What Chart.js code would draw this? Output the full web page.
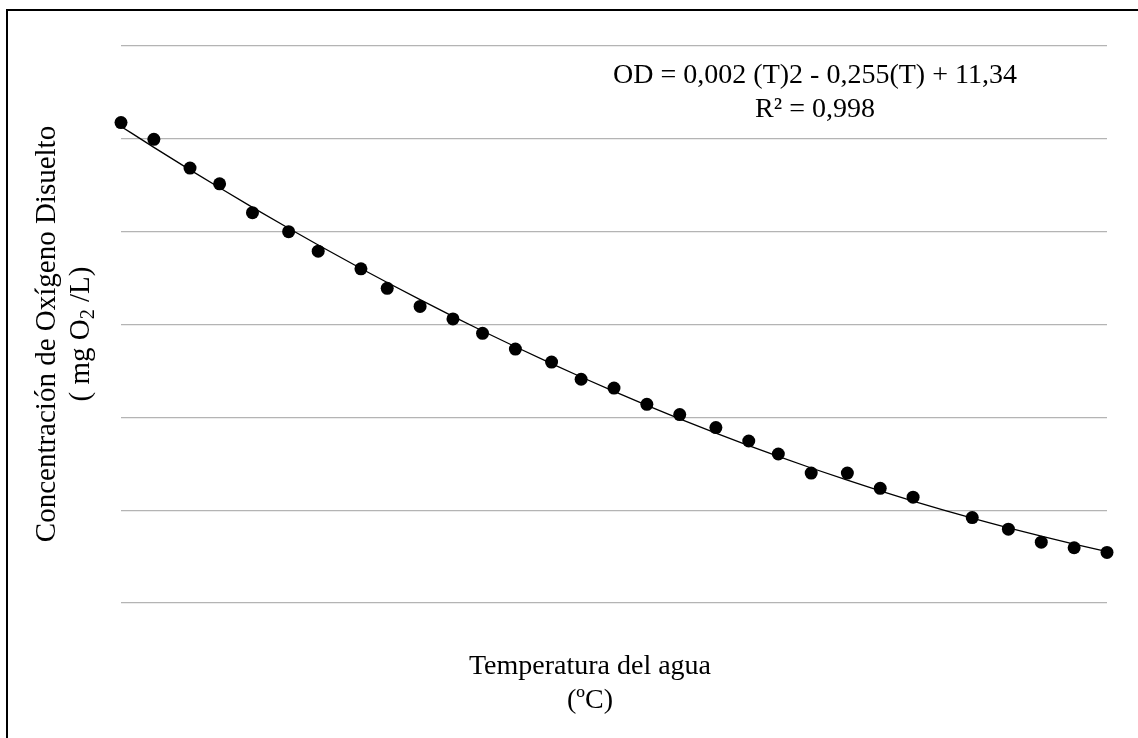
<!DOCTYPE html>
<html lang="es">
<head>
<meta charset="utf-8">
<title>Oxígeno disuelto vs temperatura</title>
<script src="https://cdn.jsdelivr.net/npm/chart.js@4.4.1/dist/chart.umd.min.js"></script>
<style>
  html, body { margin: 0; padding: 0; background: #fff; overflow: hidden; }
  body { font-family: "Liberation Serif", "Times New Roman", serif; color: #000; }
  #marco {
    position: absolute; left: 6px; top: 9px; width: 1300px; height: 900px;
    border-left: 2px solid #000; border-top: 2px solid #000;
  }
  #wrap { position: absolute; left: 0; top: 0; width: 1138px; height: 738px; }
  .texto { position: absolute; text-align: center; white-space: nowrap; line-height: 34px; }
  #ecuacion { left: 515px; top: 57px; width: 600px; font-size: 28px; }
  #tituloX { left: 290px; top: 648px; width: 600px; font-size: 28px; }
  #tituloY {
    left: -238px; top: 300px; width: 600px; height: 68px; font-size: 29px;
    transform: rotate(-90deg); transform-origin: 50% 50%;
  }
  #tituloY sub { font-size: 0.7em; vertical-align: -0.25em; line-height: 0; }
</style>
</head>
<body>
<div id="marco"></div>
<div id="wrap"><canvas id="odChart"></canvas></div>
<div id="ecuacion" class="texto"></div>
<div id="tituloX" class="texto"></div>
<div id="tituloY" class="texto">Concentración de Oxígeno Disuelto<br>( mg O<sub>2</sub> /L)</div>
<script>
// temperatura del agua (ºC)
const temperaturas = [0, 1, 2.1, 3, 4, 5.1, 6, 7.3, 8.1, 9.1, 10.1, 11, 12, 13.1, 14, 15,
  16, 17, 18.1, 19.1, 20, 21, 22.1, 23.1, 24.1, 25.9, 27, 28, 29, 30];
// oxígeno disuelto (mg O2/L)
const oxigeno = [14.35, 13.99, 13.37, 13.03, 12.41, 12.00, 11.58, 11.20, 10.78, 10.39, 10.12, 9.81,
  9.47, 9.19, 8.82, 8.63, 8.28, 8.06, 7.78, 7.49, 7.21, 6.80, 6.80, 6.47, 6.28, 5.84, 5.59, 5.31, 5.19, 5.09];
const ejeY = { min: 4, max: 16, paso: 2 };
const tituloX = ['Temperatura del agua', '(ºC)'];
const ecuacion = ['OD = 0,002 (T)2 - 0,255(T) + 11,34', 'R² = 0,998'];

document.getElementById('tituloX').innerHTML = tituloX.join('<br>');
document.getElementById('ecuacion').innerHTML = ecuacion.join('<br>');

// ajuste polinómico de grado 2 (mínimos cuadrados)
function ajustePoli2(xs, ys) {
  const s = [0, 0, 0, 0, 0], t = [0, 0, 0];
  xs.forEach((x, i) => {
    for (let k = 0; k < 5; k++) s[k] += Math.pow(x, k);
    for (let k = 0; k < 3; k++) t[k] += ys[i] * Math.pow(x, k);
  });
  const m = [[s[0], s[1], s[2], t[0]], [s[1], s[2], s[3], t[1]], [s[2], s[3], s[4], t[2]]];
  for (let c = 0; c < 3; c++) {
    for (let r = c + 1; r < 3; r++) {
      const f = m[r][c] / m[c][c];
      for (let k = c; k < 4; k++) m[r][k] -= f * m[c][k];
    }
  }
  const coef = [0, 0, 0];
  for (let r = 2; r >= 0; r--) {
    let v = m[r][3];
    for (let k = r + 1; k < 3; k++) v -= m[r][k] * coef[k];
    coef[r] = v / m[r][r];
  }
  return coef;
}

const coef = ajustePoli2(temperaturas, oxigeno);
const puntos = temperaturas.map((t, i) => ({ x: t, y: oxigeno[i] }));
const tendencia = temperaturas.map(t => ({ x: t, y: coef[0] + coef[1] * t + coef[2] * t * t }));

new Chart(document.getElementById('odChart').getContext('2d'), {
  type: 'scatter',
  data: {
    datasets: [{
      label: 'OD',
      data: puntos,
      backgroundColor: '#000',
      borderColor: '#000',
      pointRadius: 6.5,
      pointBorderWidth: 0,
      clip: false
    }, {
      label: 'Polinómica (OD)',
      data: tendencia,
      showLine: true,
      borderColor: '#000',
      borderWidth: 1.3,
      pointRadius: 0,
      cubicInterpolationMode: 'monotone',
      clip: false
    }]
  },
  options: {
    responsive: true,
    maintainAspectRatio: false,
    animation: false,
    layout: { padding: { left: 121, right: 31, top: 46, bottom: 135 } },
    plugins: { legend: { display: false }, tooltip: { enabled: false } },
    scales: {
      x: {
        type: 'linear',
        min: 0,
        max: 30,
        grid: { display: false, drawTicks: false },
        border: { display: false },
        ticks: { display: false }
      },
      y: {
        min: ejeY.min,
        max: ejeY.max,
        grid: { color: '#b4b4b4', lineWidth: 1.2, drawTicks: false },
        border: { display: false },
        ticks: { display: false, stepSize: ejeY.paso }
      }
    }
  }
});
</script>
</body>
</html>
